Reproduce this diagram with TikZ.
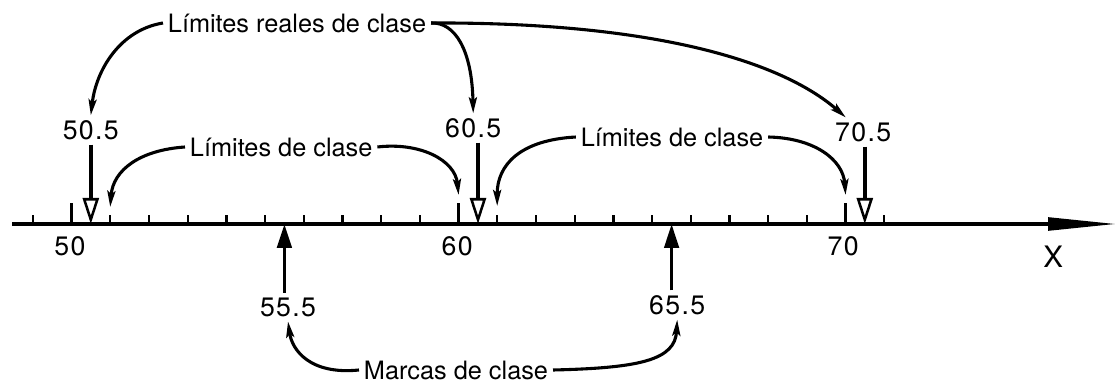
\documentclass[tikz,border=0pt]{standalone}
\usepackage{fontspec}
\setmainfont{TeX Gyre Heros}
\newfontfamily\numfont[LetterSpace=5]{TeX Gyre Heros}
\usetikzlibrary{arrows.meta}

\begin{document}
\begin{tikzpicture}[
        >={Stealth[length=0.4cm, width=0.2cm, inset=0.08cm]},
        lbl/.style={font=\fontsize{18}{20}\selectfont},
        num/.style={font=\numfont\fontsize{19}{21}\selectfont},
        curv/.style={line width=2.2pt, ->},
        realarr/.style={line width=2.6pt, -{Triangle[open, length=0.65cm, width=0.4cm, line width=1.8pt]}},
        marcaarr/.style={line width=2.6pt, -{Triangle[length=0.6cm, width=0.36cm]}},
        marca/.style={line width=1.6pt}
    ]
        \useasboundingbox (0,0) rectangle (27.925,-9.625);

        \coordinate (ini) at (0.3,-5.6);
        \coordinate (fin) at (27.9,-5.6);
        \draw[line width=2.2pt, -{Triangle[length=1.7cm, width=0.32cm]}] (ini) -- (fin);
        \foreach \v in {49,...,71}
            \draw[marca] ({1.79+(\v-50)*0.9675},-5.6) -- ++(0,0.225);
        \foreach \v in {50,60,70}
            \draw[marca] ({1.79+(\v-50)*0.9675},-5.6) -- ++(0,0.525);

        \coordinate (e505) at (2.27,-5.6);
        \coordinate (e605) at (11.95,-5.6);
        \coordinate (e705) at (21.62,-5.6);
        \coordinate (e555) at (7.11,-5.6);
        \coordinate (e655) at (16.79,-5.6);
        \coordinate (c51) at (2.755,-5.175);
        \coordinate (c60) at (11.465,-4.875);
        \coordinate (c61) at (12.43,-5.15);
        \coordinate (c70) at (21.14,-4.875);

        \node[lbl] (reales) at (7.425,-0.575) {Límites reales de clase};
        \node[num] (r50)    at (2.27,-3.25)   {50.5};
        \node[num] (r60)    at (11.83,-3.2)   {60.5};
        \node[num] (r70)    at (21.58,-3.3)   {70.5};
        \node[lbl] (lim1)   at (7.03,-3.675)  {Límites de clase};
        \node[lbl] (lim2)   at (16.8,-3.425)  {Límites de clase};
        \node[num] (n50)    at (1.75,-6.15)   {50};
        \node[num] (n60)    at (11.43,-6.15)  {60};
        \node[num] (n70)    at (21.08,-6.15)  {70};
        \node[font=\fontsize{21}{24}\selectfont] (ejex) at (26.33,-6.43) {X};
        \node[num] (m55)    at (7.2,-7.675)   {55.5};
        \node[num] (m65)    at (16.93,-7.625) {65.5};
        \node[lbl] (marcas) at (11.4,-9.25)   {Marcas de clase};

        \draw[curv] (reales.west) .. controls (3.0,-0.75) and (2.4,-1.75) .. (r50.north);
        \draw[curv] (reales.east) .. controls (11.375,-0.55) and (11.8,-1.25) .. (r60.north);
        \draw[curv] (reales.east) .. controls (16.25,-0.55) and (19.5,-1.5) .. (r70.140);
        \draw[curv] (lim1.west) .. controls (3.5,-3.75) and (2.825,-4.25) .. (c51);
        \draw[curv] (lim1.east) .. controls (10.5,-3.55) and (11.375,-4.0) .. (c60);
        \draw[curv] (lim2.west) .. controls (13.0,-3.5) and (12.425,-4.125) .. (c61);
        \draw[curv] (lim2.east) .. controls (20.375,-3.45) and (21.075,-4.0) .. (c70);
        \draw[curv] (marcas.west) .. controls (7.75,-9.375) and (7.3,-8.75) .. (m55.south);
        \draw[curv] (marcas.east) .. controls (16.0,-9.2) and (16.875,-9.0) .. (m65.south);

        \draw[realarr] (r50.south -| e505) -- (e505);
        \draw[realarr] (r60.south -| e605) -- (e605);
        \draw[realarr] (r70.south -| e705) -- (e705);
        \draw[marcaarr] (m55.north -| e555) -- (e555);
        \draw[marcaarr] (m65.north -| e655) -- (e655);
\end{tikzpicture}
\end{document}
